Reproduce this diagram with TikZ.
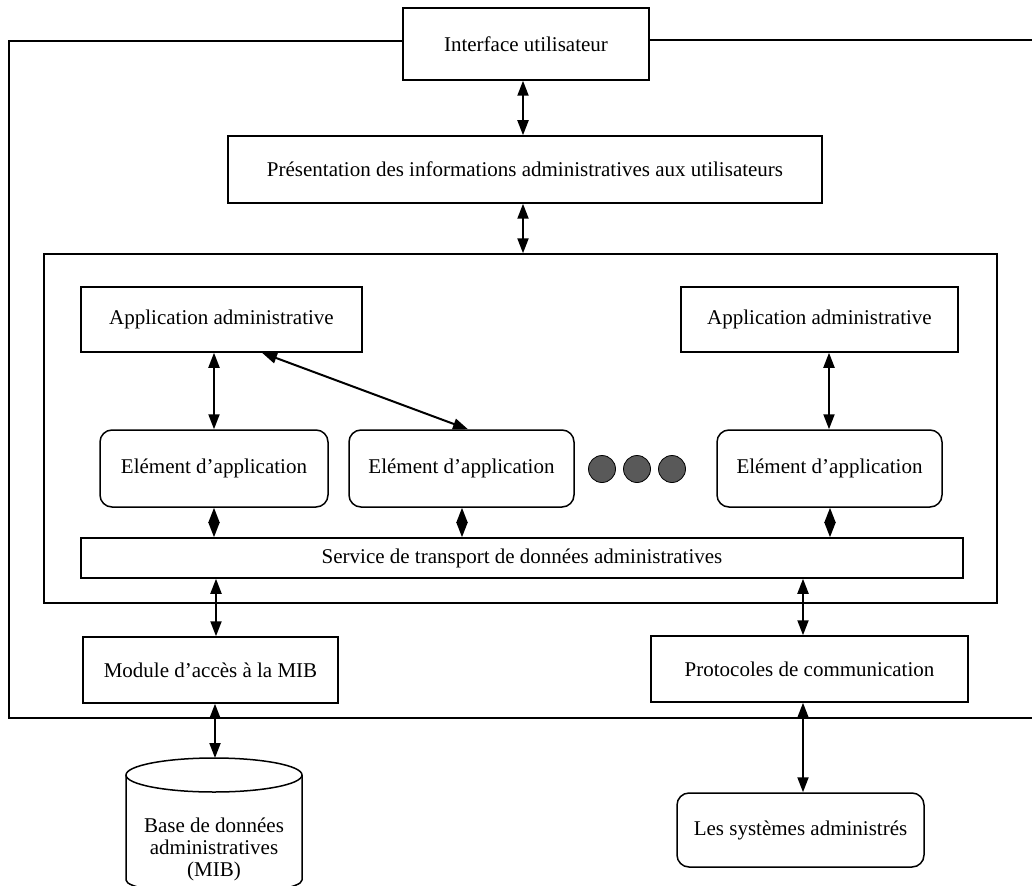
\documentclass[tikz,border=0pt]{standalone}
\usepackage{fontspec}
\setmainfont{Liberation Serif}
\usetikzlibrary{arrows.meta}
\begin{document}
\begin{tikzpicture}[x=1pt,y=-1pt,
  lbl/.style={font=\fontsize{21}{22}\selectfont, inner sep=0pt},
  box/.style={lbl, draw, line width=1.5pt, rectangle},
  rbox/.style={box, rounded corners=12pt},
  frame/.style={draw, line width=1.4pt},
  link/.style={line width=2pt, {Triangle[length=15pt,width=11pt]}-{Triangle[length=15pt,width=11pt]}},
  dot/.style={circle, draw=black, line width=0.8pt, fill=black!65, minimum size=27pt, inner sep=0pt}
]
\useasboundingbox (0,0) rectangle (1032,885);
\fill[white] (0,0) rectangle (1032,885);

% upper boxes
\node[box, minimum width=246pt, minimum height=72pt] (iface) at (526,44) {Interface utilisateur};
\node[box, minimum width=594pt, minimum height=67pt] (pres) at (525,169.5) {Présentation des informations administratives aux utilisateurs};

% outer frame, open on the right
\draw[frame] (iface.west |- 0,41) -- (9,41) -- (9,718) -- (1032,718);
\draw[frame] (iface.east |- 0,40) -- (1032,40);

% inner frame and its contents
\node[draw, line width=1.4pt, minimum width=953pt, minimum height=349pt, inner sep=0pt] (inner) at (520.5,428.5) {};
\node[box, minimum width=281pt, minimum height=65pt] (appL) at (221.5,319.5) {Application administrative};
\node[box, minimum width=277pt, minimum height=65pt] (appR) at (819.5,319.5) {Application administrative};
\node[rbox, minimum width=228pt, minimum height=77pt] (el1) at (214,468.5) {Elément d’application};
\node[rbox, minimum width=225pt, minimum height=77pt] (el2) at (461.5,468.5) {Elément d’application};
\node[rbox, minimum width=225pt, minimum height=77pt] (el3) at (829.5,468.5) {Elément d’application};
\node[dot] (d1) at (602,469) {};
\node[dot] (d2) at (637,469) {};
\node[dot] (d3) at (672,469) {};
\node[box, minimum width=882pt, minimum height=40pt] (svc) at (522,558) {Service de transport de données administratives};

% lower boxes
\node[box, minimum width=255pt, minimum height=66pt] (mod) at (210.5,670) {Module d’accès à la MIB};
\node[box, minimum width=317pt, minimum height=66pt] (proto) at (809.5,669) {Protocoles de communication};
\node[rbox, minimum width=247pt, minimum height=74pt] (sys) at (800.5,830) {Les systèmes administrés};

% database cylinder
\coordinate (dbtop) at (214,758);
\begin{scope}
  \clip (0,0) rectangle (1032,885);
  \draw[line width=1.5pt, fill=white] (126,775) -- (126,880) arc[start angle=180, end angle=360, x radius=88pt, y radius=14pt] -- (302,775);
  \draw[line width=1.5pt, fill=white] (214,775) ellipse[x radius=88pt, y radius=17pt];
\end{scope}
\node[lbl, align=center] (db) at (214,849) {Base de données\\administratives\\(MIB)};

% x positions of the connectors
\coordinate (xa) at (523,0);
\coordinate (xb) at (214,0);
\coordinate (xc) at (262,0);
\coordinate (xd) at (468,0);
\coordinate (xe) at (829,0);
\coordinate (xf) at (462,0);
\coordinate (xg) at (830,0);
\coordinate (xh) at (216,0);
\coordinate (xi) at (803,0);
\coordinate (xj) at (215,0);

% connectors
\draw[link] (iface.south -| xa) -- (pres.north -| xa);
\draw[link] (pres.south -| xa) -- (inner.north -| xa);
\draw[link] (appL.south -| xb) -- (el1.north -| xb);
\draw[link] (appL.south -| xc) -- (el2.north -| xd);
\draw[link] (appR.south -| xe) -- (el3.north -| xe);
\draw[link] (el1.south -| xb) -- (svc.north -| xb);
\draw[link] (el2.south -| xf) -- (svc.north -| xf);
\draw[link] (el3.south -| xg) -- (svc.north -| xg);
\draw[link] (svc.south -| xh) -- (mod.north -| xh);
\draw[link] (svc.south -| xi) -- (proto.north -| xi);
\draw[link] (mod.south -| xj) -- (dbtop -| xj);
\draw[link] (proto.south -| xi) -- (sys.north -| xi);
\end{tikzpicture}
\end{document}
